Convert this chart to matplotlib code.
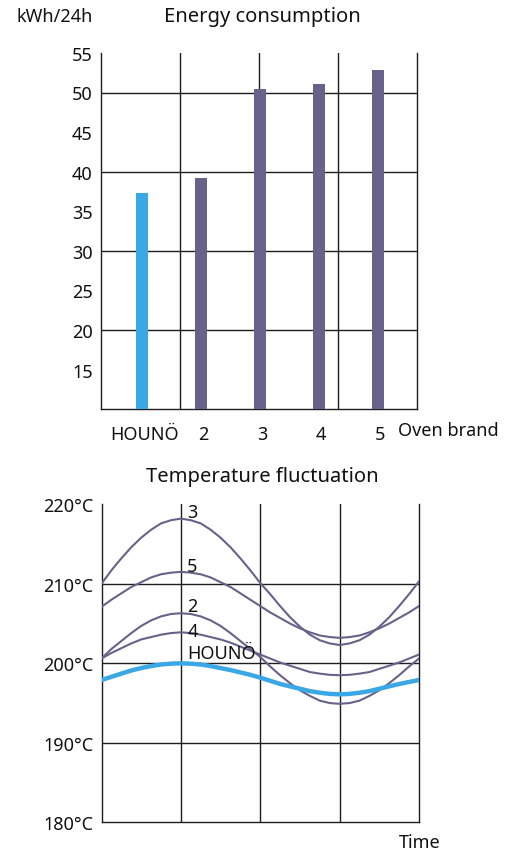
import matplotlib
matplotlib.use("Agg")
import matplotlib.pyplot as plt
import numpy as np

plt.rcParams['font.family'] = ['Noto Sans', 'DejaVu Sans']

HOUNO = 'HOUN\u00d6'

# Energy consumption (kWh/24h)
brands = [HOUNO, '2', '3', '4', '5']
energy = [37.3, 39.2, 50.5, 51.1, 52.9]
energy_ticks = [15, 20, 25, 30, 35, 40, 45, 50, 55]

# Temperature fluctuation, read every eighth of a grid cell (4 cells)
time_pts = [i / 8 for i in range(33)]
temp_3 = [210.0, 211.7, 213.2, 214.6, 215.8, 216.8, 217.6, 218.0, 218.2,
          218.0, 217.6, 216.8, 215.8, 214.6, 213.2, 211.7, 210.1,
          208.7, 207.2, 205.8, 204.6, 203.6, 202.9, 202.5, 202.3,
          202.5, 202.9, 203.6, 204.6, 205.8, 207.2, 208.7, 210.3]
temp_5 = [207.1, 208.0, 208.8, 209.6, 210.2, 210.8, 211.2, 211.4, 211.5,
          211.4, 211.2, 210.8, 210.2, 209.6, 208.8, 208.0, 207.2,
          206.4, 205.7, 205.0, 204.4, 203.9, 203.5, 203.3, 203.2,
          203.3, 203.5, 203.9, 204.4, 205.0, 205.7, 206.4, 207.2]
temp_2 = [200.6, 201.8, 202.8, 203.8, 204.7, 205.4, 205.9, 206.2, 206.3,
          206.2, 205.9, 205.4, 204.7, 203.8, 202.8, 201.8, 200.8,
          199.6, 198.5, 197.5, 196.6, 195.9, 195.3, 195.0, 194.9,
          195.0, 195.3, 195.9, 196.6, 197.5, 198.5, 199.6, 200.6]
temp_4 = [200.6, 201.3, 201.9, 202.5, 203.0, 203.3, 203.6, 203.8, 203.9,
          203.8, 203.6, 203.3, 203.0, 202.6, 202.1, 201.6, 201.1,
          200.6, 200.1, 199.7, 199.3, 198.9, 198.7, 198.55, 198.5,
          198.55, 198.7, 198.9, 199.3, 199.7, 200.1, 200.6, 201.1]
temp_houno = [197.9, 198.3, 198.7, 199.1, 199.4, 199.65, 199.85, 199.95, 200.0,
              199.95, 199.85, 199.65, 199.4, 199.15, 198.85, 198.55, 198.2,
              197.8, 197.4, 197.1, 196.8, 196.5, 196.3, 196.15, 196.1,
              196.15, 196.3, 196.5, 196.8, 197.1, 197.4, 197.65, 197.9]
temp_ticks = [180, 190, 200, 210, 220]

purple = '#68628a'
blue = '#3ba8e6'
grid_col = '#1e1e1e'
txt_col = '#111111'
fs = 13

fig = plt.figure(figsize=(5.18, 8.53), dpi=100)


def style_axes(ax):
    ax.spines['top'].set_visible(False)
    for s in ['left', 'bottom', 'right']:
        ax.spines[s].set_color(grid_col)
        ax.spines[s].set_linewidth(1.0)
    ax.tick_params(axis='both', length=0, labelsize=fs, colors=txt_col)
    ax.tick_params(axis='y', pad=6)
    ax.set_xlim(0, 4)
    for gx in [1, 2, 3]:
        ax.axvline(gx, color=grid_col, lw=1.0, zorder=1)


# --- energy consumption ---
ax1 = fig.add_axes([101 / 518, 1 - 410.3 / 853, 316 / 518, 356.4 / 853])
style_axes(ax1)
ax1.set_ylim(10, 55)
for gy in [20, 30, 40, 50]:
    ax1.axhline(gy, color=grid_col, lw=1.0, zorder=1)
pos = 0.523 + 0.746 * np.arange(len(brands))
colors = [blue] + [purple] * (len(brands) - 1)
ax1.bar(pos, energy, bottom=0, width=0.156, color=colors, zorder=3)
ax1.set_yticks(energy_ticks)
ax1.set_xticks(pos + 0.025)
ax1.set_xticklabels(brands)
ax1.tick_params(axis='x', pad=11)
fig.text(398 / 518, 1 - 431 / 853, 'Oven brand', fontsize=fs,
         va='center', ha='left', color=txt_col)
fig.text(17 / 518, 1 - 17 / 853, 'kWh/24h', fontsize=fs,
         va='center', ha='left', color=txt_col)
fig.text(262 / 518, 1 - 17 / 853, 'Energy consumption', fontsize=14.5,
         va='center', ha='center', color=txt_col)

# --- temperature fluctuation ---
ax2 = fig.add_axes([101.5 / 518, 1 - 823.3 / 853, 317.5 / 518, 318 / 853])
style_axes(ax2)
ax2.set_ylim(180, 220)
for gy in [190, 200, 210]:
    ax2.axhline(gy, color=grid_col, lw=1.0, zorder=1)
for series in [temp_3, temp_5, temp_2, temp_4]:
    ax2.plot(time_pts, series, color=purple, lw=1.5, zorder=3)
ax2.plot(time_pts, temp_houno, color=blue, lw=3.2, zorder=4)
ax2.set_yticks(temp_ticks)
ax2.set_yticklabels([f'{t}°C' for t in temp_ticks])
ax2.set_xticks([])

labels = [('3', 219.0), ('5', 212.3), ('2', 207.25), ('4', 204.1), (HOUNO, 201.3)]
for txt, ty in labels:
    ax2.text(1.08, ty, txt, fontsize=fs, va='center', ha='left',
             color=txt_col, zorder=5)

fig.text(262 / 518, 1 - 477 / 853, 'Temperature fluctuation', fontsize=14.5,
         va='center', ha='center', color=txt_col)
fig.text(420 / 518, 1 - 843 / 853, 'Time', fontsize=fs,
         va='center', ha='center', color=txt_col)

fig.savefig('out.png', dpi=100)
